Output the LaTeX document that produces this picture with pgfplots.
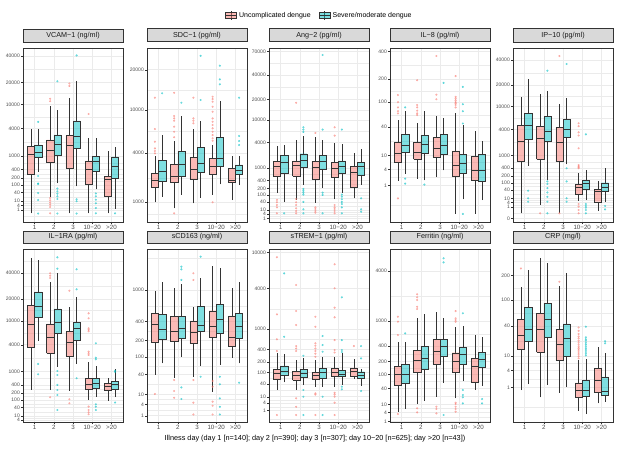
\documentclass[border=0pt]{standalone}
\usepackage{fontspec}
\setmainfont{Liberation Sans}
\usepackage{pgfplots}
\pgfplotsset{compat=1.18}
\definecolor{pk}{HTML}{F8766D}
\definecolor{tl}{HTML}{00BFC4}
\definecolor{gridc}{HTML}{EBEBEB}
\definecolor{stripc}{HTML}{D9D9D9}
\definecolor{frame}{HTML}{333333}
\definecolor{ticklab}{HTML}{4D4D4D}
\pgfplotsset{
  yt/.style={ytick={#1},yticklabels={#1}},
  boxln/.style={draw=frame, line width=0.45pt, mark=none},
  outl/.style={only marks, color=#1, mark=*, mark size=1pt, opacity=0.55,
    mark options={draw=#1, fill=#1, line width=0.1pt}},
  pan/.style={
    scale only axis, width=100pt,
    y coord trafo/.code={\begingroup\pgfkeys{/pgf/fpu=true,/pgf/fpu/output format=fixed}\pgfmathparse{((##1)<0?-1:1)*sqrt(sqrt(abs(##1)))}\xdef\trres{\pgfmathresult}\endgroup\let\pgfmathresult\trres},
    y coord inv trafo/.code={\begingroup\pgfkeys{/pgf/fpu=true,/pgf/fpu/output format=fixed}\pgfmathparse{((##1)<0?-1:1)*abs(##1)*abs(##1)*abs(##1)*abs(##1)}\xdef\trres{\pgfmathresult}\endgroup\let\pgfmathresult\trres},
    xmin=0.4, xmax=5.6, xtick={1,2,3,4,5}, xticklabels={1,2,3,10−20,>20},
    minor ytick={0.0625,2.12,6.49,21.2,64.9,143.5,287,649,2123,6494,14356,28712,53440},
    xmajorgrids, ymajorgrids, yminorgrids,
    major grid style={gridc, line width=0.5pt},
    minor grid style={gridc, line width=0.25pt},
    axis line style={frame, line width=0.5pt},
    tick align=outside, major tick length=2pt, minor tick length=0pt,
    tick style={frame, line width=0.4pt},
    xtick pos=bottom, ytick pos=left,
    yticklabel style={font=\fontsize{5}{5}\selectfont, text=ticklab, inner sep=1pt},
    xticklabel style={font=\fontsize{6.2}{6.2}\selectfont, text=ticklab, inner sep=1.2pt},
    enlargelimits=false, clip=true,
    title style={at={(0.5,1)}, anchor=south, fill=stripc, draw=frame, line width=0.5pt,
      minimum width=100pt, minimum height=13pt, inner sep=0pt, yshift=0pt,
      font=\fontsize{7.2}{7.2}\selectfont, text=black!90},
  },
  row1/.style={height=174pt},
  row2/.style={height=173pt, title style={minimum height=12pt}},
}
% #1 colour, #2 left, #3 centre, #4 right, #5 lower whisker, #6 Q1, #7 median, #8 Q3, #9 upper whisker
\newcommand\Bx[9]{%
  \addplot[boxln] coordinates {(#3,#5)(#3,#6)};
  \addplot[boxln] coordinates {(#3,#8)(#3,#9)};
  \addplot[boxln, fill=#1, fill opacity=0.5] coordinates {(#2,#6)(#4,#6)(#4,#8)(#2,#8)(#2,#6)};
  \addplot[boxln, line width=0.9pt] coordinates {(#2,#7)(#4,#7)};}
% #1 category, #2 lw, #3 Q1, #4 median, #5 Q3, #6 uw, #7 outliers (v\\v\\)
\newcommand\Bp[7]{\pgfmathsetmacro\xa{#1-0.375}\pgfmathsetmacro\xb{#1-0.1875}%
  \edef\tmp{\noexpand\Bx{pk}{\xa}{\xb}{#1}{#2}{#3}{#4}{#5}{#6}}\tmp
  \if\relax\detokenize{#7}\relax\else
  \addplot[outl=pk] table[header=false,row sep=\\,x expr=#1-0.1875,y index=0]{#7};\fi}
\newcommand\Bt[7]{\pgfmathsetmacro\xa{#1+0.375}\pgfmathsetmacro\xb{#1+0.1875}%
  \edef\tmp{\noexpand\Bx{tl}{#1}{\xb}{\xa}{#2}{#3}{#4}{#5}{#6}}\tmp
  \if\relax\detokenize{#7}\relax\else
  \addplot[outl=tl] table[header=false,row sep=\\,x expr=#1+0.1875,y index=0]{#7};\fi}
\begin{document}
\begin{tikzpicture}
\path (0,0) rectangle (617pt,448pt);
% ---------------- VCAM-1
\begin{axis}[pan,row1, at={(23pt,226pt)}, title={VCAM−1 (ng/ml)}, ymin=0, ymax=48370,
  yt={1,4,10,40,100,200,400,1000,4000,10000,20000,40000},
  legend style={at={(2.02,1.187)}, anchor=west, draw=none, fill=none, inner sep=0pt,
    font=\fontsize{7}{7}\selectfont, legend columns=2,
    /tikz/every even column/.append style={column sep=6pt}},
  legend cell align=left]
\addlegendimage{legend image code/.code={\draw[frame,line width=0.45pt](5.5pt,-4.5pt)--(5.5pt,4.5pt);\draw[frame,line width=0.45pt,fill=pk,fill opacity=0.5](0pt,-3pt)rectangle(11pt,3pt);\draw[frame,line width=0.9pt](0pt,0pt)--(11pt,0pt);}}
\addlegendentry{Uncomplicated dengue}
\addlegendimage{legend image code/.code={\draw[frame,line width=0.45pt](5.5pt,-4.5pt)--(5.5pt,4.5pt);\draw[frame,line width=0.45pt,fill=tl,fill opacity=0.5](0pt,-3pt)rectangle(11pt,3pt);\draw[frame,line width=0.9pt](0pt,0pt)--(11pt,0pt);}}
\addlegendentry{Severe/moderate dengue}
\Bp{1}{0.3}{267}{1094}{1740}{4030}{}
\Bt{1}{332}{949}{1253}{1863}{4030}{5300\\236\\116\\109\\37\\12.5\\0.27\\}
\Bp{2}{20}{661}{1422}{2400}{9490}{12150\\11250\\17.6\\11.7\\7.6\\4.8\\2.7\\0.3\\}
\Bt{2}{116}{1048}{1900}{3035}{8250}{20740\\66\\47\\34\\23\\14.8\\0.27\\}
\Bp{3}{0.3}{452}{1807}{2950}{12660}{19400\\18100\\}
\Bt{3}{86}{1585}{2855}{5520}{20740}{40650\\14\\9.8\\0.27\\}
\Bp{4}{0.3}{107}{399}{731}{2570}{7180\\}
\Bt{4}{60.6}{358}{705}{985}{2640}{35\\23\\13\\6.5\\2\\0.3\\}
\Bp{5}{0.3}{24}{172}{236}{1350}{}
\Bt{5}{1.7}{194}{509}{949}{1680}{0.3\\}
\end{axis}
% ---------------- SDC-1
\begin{axis}[pan,row1, at={(147pt,226pt)}, title={SDC−1 (pg/ml)}, ymin=484, ymax=27860,
  yt={1000,4000,10000,20000}]
\Bp{1}{1000}{1606}{1990}{2390}{3720}{12480\\6820\\5190\\4460\\4200\\3970\\}
\Bt{1}{1200}{1897}{2540}{3370}{5970}{13500\\}
\Bp{2}{813}{1840}{2225}{3000}{5300}{13600\\8860\\8460\\8080\\7160\\6440\\5730\\677\\}
\Bt{2}{1270}{2225}{3030}{4160}{8860}{11390\\}
\Bp{3}{963}{2040}{2660}{3610}{6820}{12480\\8460\\8080\\7670\\}
\Bt{3}{1163}{2430}{3110}{4570}{8080}{24800\\11970\\}
\Bp{4}{1270}{2330}{2840}{3515}{4815}{12700\\12170\\11600\\10570\\9620\\8460\\7910\\7410\\6920\\6440\\6000\\5600\\5300\\1000\\}
\Bt{4}{1755}{2900}{3550}{5730}{11830}{21300\\17100\\15740\\}
\Bp{5}{1078}{1880}{1960}{2730}{3720}{}
\Bt{5}{1720}{2347}{2570}{2980}{3720}{12480\\5890\\5270\\4815\\}
\end{axis}
% ---------------- Ang-2
\begin{axis}[pan,row1, at={(269pt,226pt)}, title={Ang−2 (pg/ml)}, ymin=0.23, ymax=75900,
  yt={1,4,10,40,100,200,400,1000,4000,10000,20000,40000,70000}]
\Bp{1}{122}{553}{1107}{1505}{3340}{54\\39\\25.6\\17\\4.9\\}
\Bt{1}{41}{709}{1412}{2150}{3500}{4.9\\}
\Bp{2}{54}{581}{1210}{1565}{4565}{18040\\61\\39\\25.6\\14.4\\8.4\\4.9\\}
\Bt{2}{280}{1063}{1594}{2310}{5440}{7640\\6980\\6360\\191\\157\\130\\105\\41\\11.8\\4.9\\}
\Bp{3}{36.6}{463}{1040}{1505}{5130}{6090\\17\\12.5\\8.4\\5.6\\}
\Bt{3}{217}{935}{1505}{2110}{4565}{64880\\6980\\130\\101\\4.9\\}
\Bp{4}{59}{513}{1000}{1450}{3930}{7640\\5440\\25.6\\17\\12.5\\8.4\\4.9\\}
\Bt{4}{130}{709}{1107}{1565}{3740}{6980\\105\\82\\59\\41\\30\\17\\4.9\\}
\Bp{5}{67}{225}{741}{1107}{2400}{}
\Bt{5}{280}{596}{1107}{1450}{2940}{67\\11.8\\7.1\\}
\end{axis}
% ---------------- IL-8
\begin{axis}[pan,row1, at={(390pt,226pt)}, title={IL−8 (pg/ml)}, ymin=0.00001, ymax=435,
  yt={1,4,10,40,100,200,400}]
\Bp{1}{1.57}{6.8}{11.2}{20.1}{53}{125.6\\100\\84\\73.6\\68\\0.2\\}
\Bt{1}{2.95}{12}{17.3}{29}{75}{84\\1.94\\1.22\\}
\Bp{2}{1.94}{7.9}{11.9}{20.1}{47.6}{194\\91\\84\\75\\68\\64\\}
\Bt{2}{1.68}{11.2}{17.8}{28.3}{73.6}{1.11\\}
\Bp{3}{2.2}{9.2}{14.8}{25.6}{61.5}{361\\127\\110\\}
\Bt{3}{3.8}{10.8}{17.6}{29}{58}{180\\}
\Bp{4}{0.005}{2.44}{5.2}{13}{68}{217\\118.6\\112\\106\\100\\96\\91\\84\\}
\Bt{4}{0.17}{2.95}{6.1}{10.8}{43.6}{160.6\\93.6\\73.6\\46.4\\0.005\\}
\Bp{5}{0.005}{1.68}{3.63}{9.6}{34.3}{}
\Bt{5}{0.15}{1.52}{3.63}{10.8}{21.8}{}
\end{axis}
% ---------------- IP-10
\begin{axis}[pan,row1, at={(513pt,226pt)}, title={IP−10 (pg/ml)}, ymin=-0.0119, ymax=53650,
  yt={0,1,4,10,40,100,200,400,1000,4000,10000,20000,40000}]
\Bp{1}{0.04}{655}{2200}{4770}{13660}{}
\Bt{1}{488}{2485}{4770}{7740}{23800}{37\\10.2\\4.8\\}
\Bp{2}{2}{772}{2655}{4500}{15070}{0.04\\}
\Bt{2}{137}{2240}{3700}{6800}{16900}{30270\\118\\89\\53\\28.5\\13.6\\4.8\\0.04\\}
\Bp{3}{0.04}{655}{2125}{4370}{10780}{44200\\0.04\\}
\Bt{3}{544}{2690}{3995}{6130}{13200}{36150\\400\\118\\10.2\\4.8\\}
\Bp{4}{5.7}{21}{56}{85}{275}{5200\\4600\\3480\\3000\\1535\\515\\470\\430\\400\\2.7\\1.2\\0.3\\0.04\\}
\Bt{4}{7.2}{45}{96}{137}{348}{3170\\2.7\\1.5\\0.8\\0.3\\0.04\\}
\Bp{5}{0.21}{4.8}{32}{45}{123}{}
\Bt{5}{4.8}{32}{56}{102}{400}{1.5\\0.41\\}
\end{axis}
% ================= row 2
% ---------------- IL-1RA
\begin{axis}[pan,row2, at={(23pt,26pt)}, title={IL−1RA (pg/ml)}, ymin=2.5, ymax=69600,
  yt={4,10,40,100,200,400,1000,4000,10000,20000,40000}]
\Bp{1}{264}{3510}{8930}{16840}{56800}{}
\Bt{1}{4750}{11390}{16000}{24570}{54650}{1565\\845\\}
\Bp{2}{264}{2700}{5470}{9030}{32350}{40000\\37650\\35540\\134\\}
\Bt{2}{1340}{6390}{9600}{14900}{40000}{58000\\44700\\1040\\807\\400\\264\\168\\28\\}
\Bp{3}{250}{2370}{4370}{6800}{16000}{25450\\109\\69\\}
\Bt{3}{1565}{4890}{7540}{9450}{21150}{44000\\26430\\650\\}
\Bp{4}{101}{282}{430}{650}{1765}{12970\\11000\\7740\\7300\\6900\\2920\\2700\\2500\\45\\28\\19.6\\13.9\\}
\Bt{4}{142}{305}{452}{650}{1395}{4260\\2175\\2000\\61\\45\\28\\}
\Bp{5}{93}{250}{348}{452}{650}{}
\Bt{5}{134}{282}{400}{509}{1171}{1050\\980\\75\\}
\end{axis}
% ---------------- sCD163
\begin{axis}[pan,row2, at={(147pt,26pt)}, title={sCD163 (ng/ml)}, ymin=0.35, ymax=2585,
  yt={1,4,10,40,100,200,400,1000}]
\Bp{1}{39}{185}{361}{516}{975}{10.5\\}
\Bt{1}{73}{211}{305}{500}{1218}{}
\Bp{2}{33}{192}{280}{464}{1046}{28.6\\13.3\\7.6\\}
\Bt{2}{101}{218}{315}{464}{1157}{1765\\1660\\1290\\17.4\\6.8\\}
\Bp{3}{35}{180}{274}{404}{620}{1515\\1290\\28.6\\4.8\\1.2\\}
\Bt{3}{64}{280}{354}{641}{1340}{2200\\35\\}
\Bp{4}{12.5}{227}{342}{558}{1795}{27\\18.3\\5.3\\3.5\\1.2\\}
\Bt{4}{68}{269}{428}{676}{1700}{35\\21.6\\7.2\\3.1\\1.2\\}
\Bp{5}{96}{163}{227}{475}{1046}{}
\Bt{5}{73}{218}{333}{516}{1235}{24\\}
\end{axis}
% ---------------- sTREM-1
\begin{axis}[pan,row2, at={(269pt,26pt)}, title={sTREM−1 (pg/ml)}, ymin=0.013, ymax=10780,
  yt={1,4,10,40,100,200,400,1000,4000,10000},
  xlabel={Illness day (day 1 [n=140]; day 2 [n=390]; day 3 [n=307]; day 10−20 [n=625]; day >20 [n=43])},
  xlabel style={at={(axis description cs:0.46,0)}, anchor=north, yshift=-13pt, inner sep=0pt,
    font=\fontsize{7.3}{7.3}\selectfont, text=black}]
\Bp{1}{21.8}{60}{93.6}{126}{326}{8930\\1752\\650\\368\\0.29\\}
\Bt{1}{45.7}{82}{107.5}{155}{314}{6000\\726\\}
\Bp{2}{21.8}{55.5}{82}{110}{224}{4390\\1966\\1180\\472\\420\\370\\8.1\\2.1\\0.29\\}
\Bt{2}{35.5}{67}{93.6}{126}{246}{285\\21.8\\10\\0.29\\}
\Bp{3}{30.5}{60}{82}{101}{224}{1606\\1100\\540\\480\\420\\370\\320\\269\\15\\13\\0.29\\}
\Bt{3}{30.5}{63}{101}{132}{269}{750\\496\\355\\10\\0.29\\}
\Bp{4}{30.5}{72.5}{101}{132}{269}{7540\\4000\\2200\\1575\\626\\388\\340\\16\\13\\10\\4.3\\0.29\\}
\Bt{4}{35.5}{72.5}{89}{113}{326}{3060\\626\\388\\350\\30.5\\23.4\\}
\Bp{5}{60}{72.5}{105}{138}{234}{472\\}
\Bt{5}{33}{63}{82}{105}{124}{472\\246\\19.5\\}
\end{axis}
% ---------------- Ferritin
\begin{axis}[pan,row2, at={(390pt,26pt)}, title={Ferritin (ng/ml)}, ymin=0.885, ymax=6440,
  yt={1,4,10,40,100,200,400,1000,4000}]
\Bp{1}{4.4}{49}{103}{154}{479}{1157\\985\\618\\3.2\\}
\Bt{1}{6.1}{58}{103}{174}{479}{657\\}
\Bp{2}{10.5}{111}{208}{339}{1100}{2225\\2050\\1900\\1565\\1467\\6.6\\4\\}
\Bt{2}{14.5}{137}{234}{391}{1260}{}
\Bp{3}{21}{177}{317}{525}{1325}{7.9\\6.1\\3.5\\}
\Bt{3}{60}{252}{403}{525}{1100}{5290\\4840\\2.8\\}
\Bp{4}{18}{117}{198}{302}{831}{1376\\1100\\1040\\985\\12\\10.5\\7.9\\6.1\\4.4\\}
\Bt{4}{67}{177}{282}{375}{850}{1288\\36\\24\\19.8\\11.2\\}
\Bp{5}{36}{61.6}{154}{234}{618}{}
\Bt{5}{49}{147}{226}{308}{581}{17\\11.2\\}
\end{axis}
% ---------------- CRP
\begin{axis}[pan,row2, at={(513pt,26pt)}, title={CRP (mg/l)}, ymin=0.0004, ymax=382,
  yt={1,4,10,40,100,200}]
\Bp{1}{0.75}{14.4}{27.6}{51.7}{148}{241\\}
\Bt{1}{1.36}{21.4}{35.5}{78.8}{231}{}
\Bp{2}{0.32}{12}{34.3}{64}{314}{}
\Bt{2}{1.26}{25}{51.7}{90}{274}{}
\Bp{3}{0.57}{7.8}{17.7}{35.5}{150}{170\\}
\Bt{3}{1.04}{10}{23.9}{43.6}{213}{}
\Bp{4}{0.031}{0.32}{0.75}{1.52}{7.8}{37.8\\33\\29\\26\\23.9\\21.5\\19.5\\17.7\\16\\14.8\\13.6\\12.3\\11\\9.8\\8.7\\}
\Bt{4}{0.013}{0.39}{0.75}{1.94}{8.2}{39\\25\\23\\21.5\\19.5\\18\\16.5\\15\\13.6\\12.3\\11.2\\10.2\\}
\Bp{5}{0.13}{0.57}{1.94}{4.67}{15.7}{}
\Bt{5}{0.17}{0.43}{0.68}{2.52}{11.5}{21\\19\\}
\end{axis}
\end{tikzpicture}
\end{document}
